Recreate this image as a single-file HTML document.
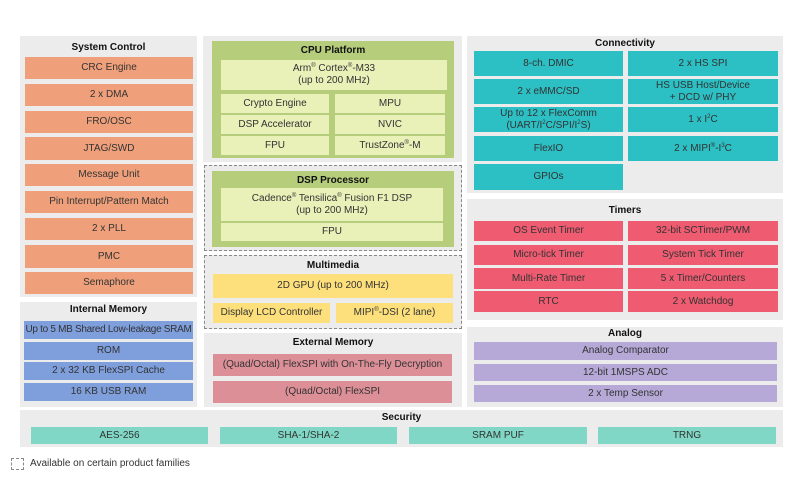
<!DOCTYPE html>
<html><head><meta charset="utf-8"><style>
*{margin:0;padding:0;box-sizing:border-box}
body{width:800px;height:485px;background:#fff;position:relative;overflow:hidden;font-family:"Liberation Sans",Arial,sans-serif;color:#222}
div{position:absolute}
.p{background:#ececec}
.t{font-weight:bold;font-size:10px;text-align:center;color:#111}
.b{display:flex;align-items:center;justify-content:center;text-align:center;font-size:10px;line-height:12px;color:#333;white-space:nowrap}
.b span{display:block}
.o{background:#efa07a}
.bl{background:#7f9fdc}
.g{background:#e9f0b8}
.te{background:#2cbfc3}
.r{background:#ef5b70}
.pu{background:#b6a9d7}
.y{background:#fde07c}
.pk{background:#dd8f98}
.m{background:#80d7c5}
.d{border:1.5px dashed #888}
sup{font-size:6px;vertical-align:top;line-height:6px}
</style></head><body>
<!-- System Control -->
<div class="p" style="left:20px;top:36px;width:177px;height:261px"></div>
<div class="t" style="left:20px;top:42px;width:177px">System Control</div>
<div class="b o" style="left:25px;top:57px;width:168px;height:22px"><span>CRC Engine</span></div>
<div class="b o" style="left:25px;top:84px;width:168px;height:22px"><span>2 x DMA</span></div>
<div class="b o" style="left:25px;top:111px;width:168px;height:22px"><span>FRO/OSC</span></div>
<div class="b o" style="left:25px;top:137px;width:168px;height:23px"><span>JTAG/SWD</span></div>
<div class="b o" style="left:25px;top:164px;width:168px;height:22px"><span>Message Unit</span></div>
<div class="b o" style="left:25px;top:191px;width:168px;height:22px"><span>Pin Interrupt/Pattern Match</span></div>
<div class="b o" style="left:25px;top:218px;width:168px;height:22px"><span>2 x PLL</span></div>
<div class="b o" style="left:25px;top:245px;width:168px;height:23px"><span>PMC</span></div>
<div class="b o" style="left:25px;top:272px;width:168px;height:22px"><span>Semaphore</span></div>
<!-- Internal memory -->
<div class="p" style="left:20px;top:302px;width:177px;height:105px"></div>
<div class="t" style="left:20px;top:304px;width:177px">Internal Memory</div>
<div class="b bl" style="left:24px;top:321px;width:169px;height:18px;letter-spacing:-0.3px"><span>Up to 5 MB Shared Low-leakage SRAM</span></div>
<div class="b bl" style="left:24px;top:342px;width:169px;height:18px"><span>ROM</span></div>
<div class="b bl" style="left:24px;top:362px;width:169px;height:18px"><span>2 x 32 KB FlexSPI Cache</span></div>
<div class="b bl" style="left:24px;top:383px;width:169px;height:18px"><span>16 KB USB RAM</span></div>
<!-- CPU -->
<div class="p" style="left:203px;top:36px;width:259px;height:126px"></div>
<div style="left:212px;top:41px;width:242px;height:117px;background:#b6cd7c"></div>
<div class="t" style="left:212px;top:45px;width:242px">CPU Platform</div>
<div class="b g" style="left:221px;top:60px;width:226px;height:30px"><span>Arm<sup>®</sup> Cortex<sup>®</sup>-M33<br>(up to 200 MHz)</span></div>
<div class="b g" style="left:221px;top:94px;width:108px;height:19px"><span>Crypto Engine</span></div>
<div class="b g" style="left:221px;top:115px;width:108px;height:19px"><span>DSP Accelerator</span></div>
<div class="b g" style="left:221px;top:136px;width:108px;height:19px"><span>FPU</span></div>
<div class="b g" style="left:335px;top:94px;width:110px;height:19px"><span>MPU</span></div>
<div class="b g" style="left:335px;top:115px;width:110px;height:19px"><span>NVIC</span></div>
<div class="b g" style="left:335px;top:136px;width:110px;height:19px"><span>TrustZone<sup>®</sup>-M</span></div>
<!-- DSP -->
<div class="p d" style="left:204px;top:165px;width:258px;height:86px"></div>
<div style="left:212px;top:171px;width:242px;height:76px;background:#b6cd7c"></div>
<div class="t" style="left:212px;top:175px;width:242px">DSP Processor</div>
<div class="b g" style="left:221px;top:188px;width:222px;height:33px"><span>Cadence<sup>®</sup> Tensilica<sup>®</sup> Fusion F1 DSP<br>(up to 200 MHz)</span></div>
<div class="b g" style="left:221px;top:223px;width:222px;height:18px"><span>FPU</span></div>
<!-- Multimedia -->
<div class="p d" style="left:204px;top:255px;width:258px;height:74px"></div>
<div class="t" style="left:204px;top:260px;width:258px">Multimedia</div>
<div class="b y" style="left:213px;top:274px;width:240px;height:24px"><span>2D GPU (up to 200 MHz)</span></div>
<div class="b y" style="left:213px;top:303px;width:117px;height:20px"><span>Display LCD Controller</span></div>
<div class="b y" style="left:336px;top:303px;width:117px;height:20px"><span>MIPI<sup>®</sup>-DSI (2 lane)</span></div>
<!-- External memory -->
<div class="p" style="left:204px;top:333px;width:258px;height:74px"></div>
<div class="t" style="left:204px;top:337px;width:258px">External Memory</div>
<div class="b pk" style="left:213px;top:354px;width:239px;height:22px"><span>(Quad/Octal) FlexSPI with On-The-Fly Decryption</span></div>
<div class="b pk" style="left:213px;top:381px;width:239px;height:22px"><span>(Quad/Octal) FlexSPI</span></div>
<!-- Connectivity -->
<div class="p" style="left:467px;top:36px;width:316px;height:157px"></div>
<div class="t" style="left:467px;top:38px;width:316px">Connectivity</div>
<div class="b te" style="left:474px;top:51px;width:149px;height:25px"><span>8-ch. DMIC</span></div>
<div class="b te" style="left:474px;top:79px;width:149px;height:25px"><span>2 x eMMC/SD</span></div>
<div class="b te" style="left:474px;top:107px;width:149px;height:25px"><span>Up to 12 x FlexComm<br>(UART/I<sup>2</sup>C/SPI/I<sup>2</sup>S)</span></div>
<div class="b te" style="left:474px;top:136px;width:149px;height:25px"><span>FlexIO</span></div>
<div class="b te" style="left:474px;top:164px;width:149px;height:26px"><span>GPIOs</span></div>
<div class="b te" style="left:628px;top:51px;width:150px;height:25px"><span>2 x HS SPI</span></div>
<div class="b te" style="left:628px;top:79px;width:150px;height:25px"><span>HS USB Host/Device<br>+ DCD w/ PHY</span></div>
<div class="b te" style="left:628px;top:107px;width:150px;height:25px"><span>1 x I<sup>2</sup>C</span></div>
<div class="b te" style="left:628px;top:136px;width:150px;height:25px"><span>2 x MIPI<sup>®</sup>-I<sup>3</sup>C</span></div>
<!-- Timers -->
<div class="p" style="left:467px;top:199px;width:316px;height:121px"></div>
<div class="t" style="left:467px;top:205px;width:316px">Timers</div>
<div class="b r" style="left:474px;top:221px;width:149px;height:20px"><span>OS Event Timer</span></div>
<div class="b r" style="left:474px;top:245px;width:149px;height:20px"><span>Micro-tick Timer</span></div>
<div class="b r" style="left:474px;top:268px;width:149px;height:21px"><span>Multi-Rate Timer</span></div>
<div class="b r" style="left:474px;top:291px;width:149px;height:21px"><span>RTC</span></div>
<div class="b r" style="left:628px;top:221px;width:150px;height:20px"><span>32-bit SCTimer/PWM</span></div>
<div class="b r" style="left:628px;top:245px;width:150px;height:20px"><span>System Tick Timer</span></div>
<div class="b r" style="left:628px;top:268px;width:150px;height:21px"><span>5 x Timer/Counters</span></div>
<div class="b r" style="left:628px;top:291px;width:150px;height:21px"><span>2 x Watchdog</span></div>
<!-- Analog -->
<div class="p" style="left:467px;top:327px;width:316px;height:80px"></div>
<div class="t" style="left:467px;top:328px;width:316px">Analog</div>
<div class="b pu" style="left:474px;top:342px;width:303px;height:18px"><span>Analog Comparator</span></div>
<div class="b pu" style="left:474px;top:364px;width:303px;height:17px"><span>12-bit 1MSPS ADC</span></div>
<div class="b pu" style="left:474px;top:385px;width:303px;height:17px"><span>2 x Temp Sensor</span></div>
<!-- Security -->
<div class="p" style="left:20px;top:410px;width:763px;height:37px"></div>
<div class="t" style="left:20px;top:412px;width:763px">Security</div>
<div class="b m" style="left:31px;top:427px;width:177px;height:17px"><span>AES-256</span></div>
<div class="b m" style="left:220px;top:427px;width:177px;height:17px"><span>SHA-1/SHA-2</span></div>
<div class="b m" style="left:409px;top:427px;width:178px;height:17px"><span>SRAM PUF</span></div>
<div class="b m" style="left:598px;top:427px;width:178px;height:17px"><span>TRNG</span></div>
<!-- legend -->
<div class="d" style="left:11px;top:458px;width:13px;height:12px"></div>
<div style="left:30px;top:458px;font-size:10px;color:#333">Available on certain product families</div>
</body></html>
